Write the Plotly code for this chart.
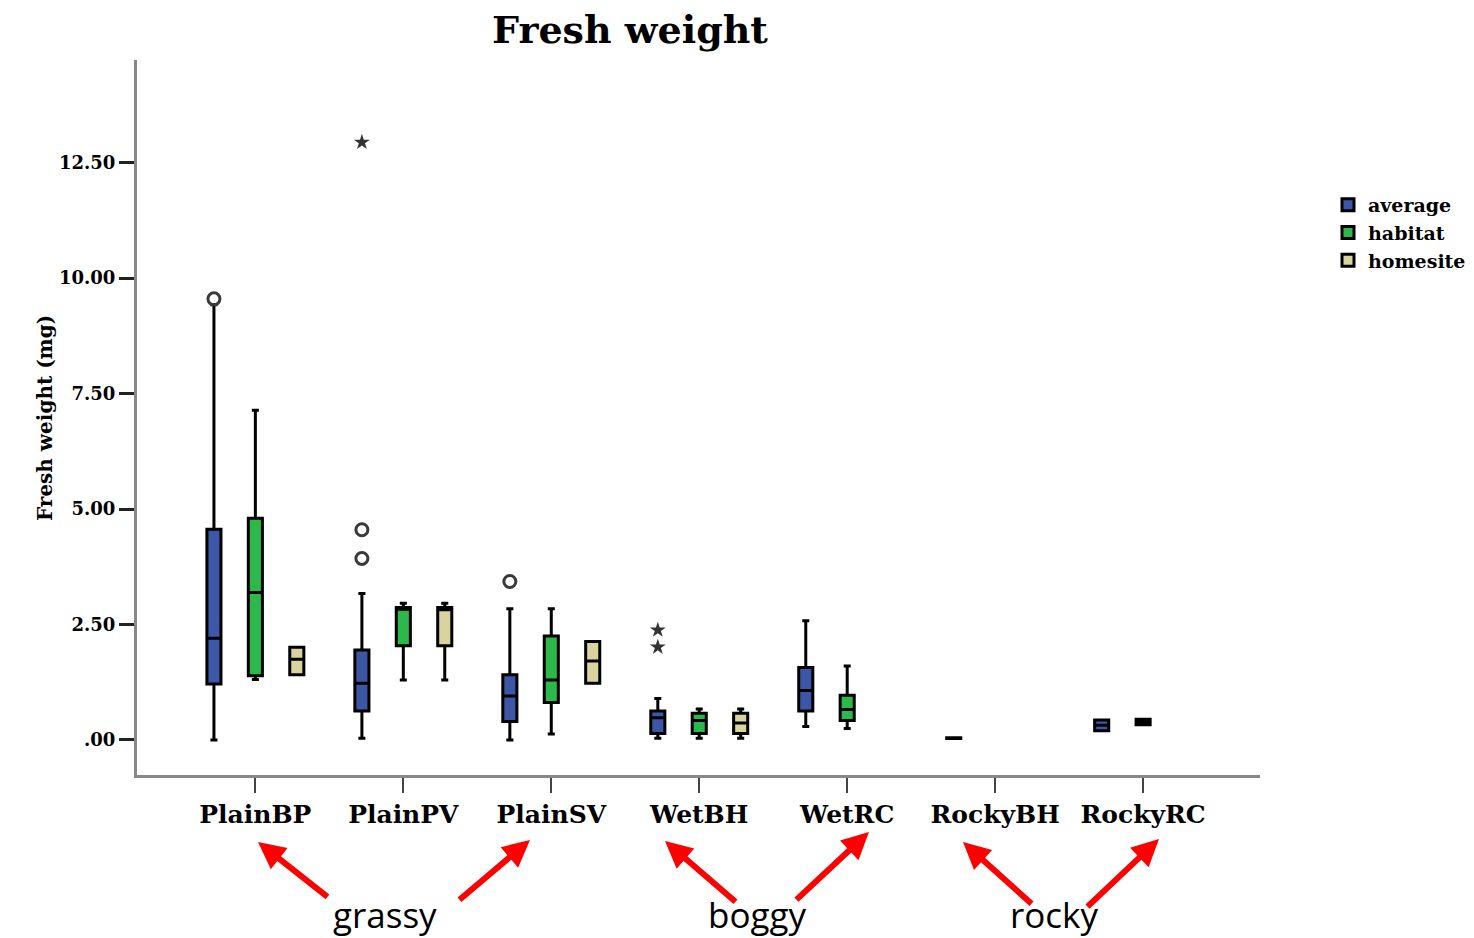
import plotly.graph_objects as go

# ---------------- data ----------------
categories = ["PlainBP", "PlainPV", "PlainSV", "WetBH", "WetRC", "RockyBH", "RockyRC"]

avg_cats = ["PlainBP", "PlainPV", "PlainSV", "WetBH", "WetRC", "RockyBH", "RockyRC"]
avg_lower = [0.00, 0.04, 0.00, 0.04, 0.29, 0.03, 0.20]
avg_q1 = [1.21, 0.63, 0.40, 0.14, 0.63, 0.03, 0.20]
avg_median = [2.20, 1.23, 0.95, 0.48, 1.07, 0.04, 0.32]
avg_q3 = [4.56, 1.95, 1.41, 0.63, 1.57, 0.05, 0.43]
avg_upper = [9.42, 3.17, 2.84, 0.90, 2.58, 0.05, 0.43]
avg_circle_outliers = [[9.55], [4.55, 3.93], [3.43], [], [], [], []]

star_cats = ["PlainPV", "WetBH"]
star_stat = [1.23, 0.48]
star_outliers = [[12.94], [2.38, 2.01]]

hab_cats = ["PlainBP", "PlainPV", "PlainSV", "WetBH", "WetRC", "RockyRC"]
hab_lower = [1.31, 1.30, 0.13, 0.04, 0.25, 0.33]
hab_q1 = [1.39, 2.04, 0.81, 0.14, 0.42, 0.33]
hab_median = [3.19, 2.83, 1.30, 0.42, 0.66, 0.39]
hab_q3 = [4.80, 2.87, 2.25, 0.58, 0.97, 0.45]
hab_upper = [7.14, 2.96, 2.84, 0.67, 1.60, 0.45]

home_cats = ["PlainBP", "PlainPV", "PlainSV", "WetBH"]
home_lower = [1.41, 1.30, 1.23, 0.04]
home_q1 = [1.41, 2.04, 1.23, 0.14]
home_median = [1.75, 2.82, 1.71, 0.37]
home_q3 = [2.01, 2.87, 2.13, 0.58]
home_upper = [2.01, 2.96, 2.13, 0.67]

y_tickvals = [0, 2.5, 5, 7.5, 10, 12.5]
y_ticktext = [".00", "2.50", "5.00", "7.50", "10.00", "12.50"]

group_labels = ["grassy", "boggy", "rocky"]

# ---------------- styling ----------------
SERIF = "DejaVu Serif"
BLUE, GREEN, TAN = "#3d56a6", "#2db84b", "#d9d49f"
W, H = 1474, 938
L, R, T, B = 137, 1260, 60, 775  # plot area in pixels


def px(x):
    return (x - L) / (R - L)


def py(y):
    return (B - y) / (B - T)


fig = go.Figure()

common = dict(boxpoints="outliers", pointpos=0, jitter=0, whiskerwidth=0.5,
              line=dict(color="black", width=3))

fig.add_trace(go.Box(
    name="average", x=avg_cats, y=avg_circle_outliers,
    q1=avg_q1, median=avg_median, q3=avg_q3,
    lowerfence=avg_lower, upperfence=avg_upper,
    fillcolor=BLUE, offsetgroup="average",
    marker=dict(symbol="circle-open", size=12, color="#3a3a3a",
                line=dict(width=3, color="#3a3a3a")),
    **common))

fig.add_trace(go.Box(
    name="average", x=star_cats, y=star_outliers,
    q1=star_stat, median=star_stat, q3=star_stat,
    lowerfence=star_stat, upperfence=star_stat,
    fillcolor="rgba(0,0,0,0)", offsetgroup="average", showlegend=False,
    boxpoints="outliers", pointpos=0, jitter=0,
    line=dict(color="rgba(0,0,0,0)", width=1),
    marker=dict(symbol="star", size=12, color="#333333",
                line=dict(width=0, color="#333333"))))

fig.add_trace(go.Box(
    name="habitat", x=hab_cats,
    q1=hab_q1, median=hab_median, q3=hab_q3,
    lowerfence=hab_lower, upperfence=hab_upper,
    fillcolor=GREEN, offsetgroup="habitat", **common))

fig.add_trace(go.Box(
    name="homesite", x=home_cats,
    q1=home_q1, median=home_median, q3=home_q3,
    lowerfence=home_lower, upperfence=home_upper,
    fillcolor=TAN, offsetgroup="homesite", **common))

# group labels and arrows
label_pos = [(385, 914), (757, 914), (1054, 914)]
annotations = []
for text, (lx, ly) in zip(group_labels, label_pos):
    annotations.append(dict(text=text, x=px(lx), y=py(ly), xref="paper", yref="paper",
                            showarrow=False, font=dict(family="Open Sans", size=35, color="black"),
                            xanchor="center", yanchor="middle"))

arrows = [((329, 898), (258, 842)), ((458, 901), (530, 840)),
          ((737, 903), (665, 841)), ((795, 901), (869, 832)),
          ((1033, 905), (963, 842)), ((1086, 908), (1159, 839))]
for (tx, ty), (hx, hy) in arrows:
    annotations.append(dict(text="", x=px(hx), y=py(hy), xref="paper", yref="paper",
                            ax=tx - hx, ay=ty - hy, showarrow=True, arrowhead=2,
                            arrowsize=0.9, arrowwidth=6, arrowcolor="#ff0000"))

annotations.append(dict(text="Fresh weight (mg)", x=px(31), y=py(418), xref="paper", yref="paper",
                        showarrow=False, textangle=-90,
                        font=dict(family=SERIF, size=20, color="black", weight="bold")))

fig.update_layout(
    width=W, height=H,
    margin=dict(l=L, r=W - R, t=T, b=H - B, pad=0, autoexpand=False),
    paper_bgcolor="white", plot_bgcolor="white",
    boxmode="group", boxgap=0.16, boxgroupgap=0.66,
    title=dict(text="Fresh weight", x=px(630), xref="paper", xanchor="center",
               y=1 - 30 / H, yref="container", yanchor="middle",
               font=dict(family=SERIF, size=38, color="black", weight="bold")),
    legend=dict(x=px(1328), y=py(186), xanchor="left", yanchor="top",
                font=dict(family=SERIF, size=19, color="black", weight="bold"),
                bgcolor="rgba(0,0,0,0)", tracegroupgap=0, itemwidth=30),
    annotations=annotations,
    showlegend=True,
)

fig.update_xaxes(type="category", categoryorder="array", categoryarray=categories,
                 range=[-0.8, 6.79], showline=True, linecolor="#888888", linewidth=3,
                 ticks="outside", ticklen=15, tickwidth=2, tickcolor="#444444",
                 showgrid=False, zeroline=False,
                 tickfont=dict(family=SERIF, size=25, color="black", weight="bold"))
fig.update_yaxes(range=[-0.758, 14.72], tickvals=y_tickvals, ticktext=y_ticktext,
                 showline=True, linecolor="#888888", linewidth=3,
                 ticks="outside", ticklen=15, tickwidth=3, tickcolor="#222222",
                 showgrid=False, zeroline=False,
                 tickfont=dict(family=SERIF, size=18, color="black", weight="bold"))

fig.write_html("out.html")
